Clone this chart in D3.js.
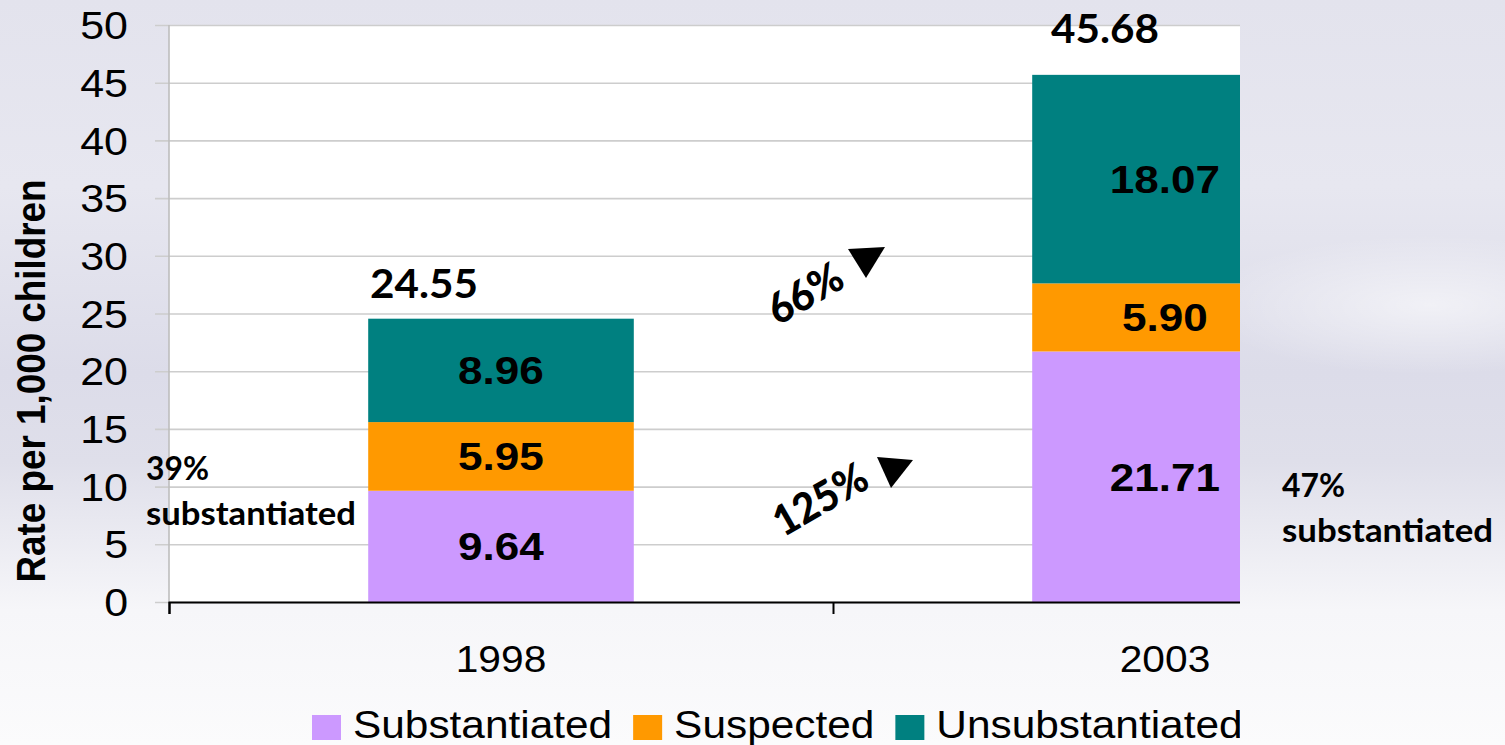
<!DOCTYPE html>
<html>
<head>
<meta charset="utf-8">
<script src="https://cdn.jsdelivr.net/npm/d3@7"></script>
<style>
  html, body { margin: 0; padding: 0; overflow: hidden; }
  svg { display: block; }
</style>
</head>
<body>
<svg id="chart"></svg>
<script>
// data
const years = ["1998", "2003"];
const seriesNames = ["Substantiated", "Suspected", "Unsubstantiated"];
const substantiated = [9.64, 21.71];
const suspected = [5.95, 5.90];
const unsubstantiated = [8.96, 18.07];
const totals = [24.55, 45.68];
const yTicks = [0, 5, 10, 15, 20, 25, 30, 35, 40, 45, 50];
const shareNotes = ["39%", "47%"];
const changeNotes = ["66%", "125%"];

const colors = ["#cc99ff", "#ff9900", "#008080"];

const width = 1505;
const height = 745;
const plot = {left: 169, right: 1497, top: 25, bottom: 602, clipRight: 1240};
const armFont = "'Liberation Sans', Arial, sans-serif";
const calFont = "Lato, 'Open Sans', sans-serif";

// widen text to look like the stretched slide
function stretch(sel, k) {
    sel.each(function() {
        const w = this.getComputedTextLength();
        d3.select(this)
            .attr("textLength", w * k)
            .attr("lengthAdjust", "spacingAndGlyphs");
    });
}
function fitTo(sel, w) {
    sel.attr("textLength", w).attr("lengthAdjust", "spacingAndGlyphs");
}

const svg = d3.select("#chart")
    .attr("width", width)
    .attr("height", height);

const defs = svg.append("defs");
const bg = defs.append("linearGradient")
    .attr("id", "bg").attr("x1", 0).attr("y1", 0).attr("x2", 0).attr("y2", 1);
[[0, "#e3e3ed"], [0.25, "#e7e7f0"], [0.5, "#dcdce9"], [0.62, "#dfdfea"],
 [0.82, "#f6f6f9"], [1, "#fbfbfc"]].forEach(s =>
    bg.append("stop").attr("offset", s[0]).attr("stop-color", s[1]));

const glow = defs.append("radialGradient").attr("id", "glow");
glow.append("stop").attr("offset", 0).attr("stop-color", "#ffffff").attr("stop-opacity", 0.55);
glow.append("stop").attr("offset", 1).attr("stop-color", "#ffffff").attr("stop-opacity", 0);

defs.append("clipPath").attr("id", "cut")
    .append("rect").attr("x", 0).attr("y", 0)
    .attr("width", plot.clipRight).attr("height", height);

svg.append("rect").attr("width", width).attr("height", height).attr("fill", "url(#bg)");
svg.append("ellipse")
    .attr("cx", 1430).attr("cy", 305).attr("rx", 230).attr("ry", 70)
    .attr("fill", "url(#glow)");

// scales
const x = d3.scaleBand()
    .domain(years)
    .range([plot.left, plot.right])
    .paddingInner(0.6)
    .paddingOuter(0.3);

const y = d3.scaleLinear()
    .domain([0, 50])
    .range([plot.bottom, plot.top]);

const rows = years.map((yr, i) => ({
    year: yr,
    Substantiated: substantiated[i],
    Suspected: suspected[i],
    Unsubstantiated: unsubstantiated[i]
}));
const stacked = d3.stack().keys(seriesNames)(rows);

const g = svg.append("g").attr("clip-path", "url(#cut)");

g.append("rect")
    .attr("x", plot.left).attr("y", plot.top)
    .attr("width", plot.right - plot.left)
    .attr("height", plot.bottom - plot.top)
    .attr("fill", "white");

// gridlines + y labels
const yAxis = g.append("g")
    .attr("transform", `translate(155,0)`)
    .call(d3.axisLeft(y).tickValues(yTicks).tickSize(-(plot.right - 155)).tickPadding(0));
yAxis.select(".domain").remove();
yAxis.selectAll(".tick line").attr("stroke", "#cdcdcd").attr("stroke-width", 1.6);
yAxis.selectAll(".tick text")
    .attr("x", -27)
    .attr("dy", "0.36em")
    .attr("fill", "#000")
    .style("font", `38px ${armFont}`);
stretch(yAxis.selectAll(".tick text"), 1.13);

g.append("line")
    .attr("x1", plot.left).attr("x2", plot.left)
    .attr("y1", plot.top).attr("y2", plot.bottom)
    .attr("stroke", "#bdbdbd").attr("stroke-width", 1.6);

// bars
g.append("g")
    .selectAll("g")
    .data(stacked)
    .join("g")
        .attr("fill", (d, i) => colors[i])
    .selectAll("rect")
    .data(d => d)
    .join("rect")
        .attr("x", d => x(d.data.year))
        .attr("y", d => y(d[1]))
        .attr("width", x.bandwidth())
        .attr("height", d => y(d[0]) - y(d[1]));

// segment values
const segLabels = g.append("g")
    .attr("text-anchor", "middle")
    .style("font", `bold 39px ${armFont}`)
    .selectAll("g")
    .data(stacked)
    .join("g")
    .selectAll("text")
    .data(d => d)
    .join("text")
        .attr("x", d => x(d.data.year) + x.bandwidth() / 2)
        .attr("y", d => (y(d[0]) + y(d[1])) / 2)
        .attr("dy", "0.36em")
        .text(d => (d[1] - d[0]).toFixed(2));
stretch(segLabels, 1.13);

// x axis
const boundary = d3.scaleLinear().domain([0, years.length]).range([plot.left, plot.right]);
const xTicks = g.append("g")
    .attr("transform", `translate(0,${plot.bottom})`)
    .call(d3.axisBottom(boundary).tickValues(d3.range(years.length + 1)).tickSize(12).tickFormat(""));
xTicks.selectAll("line, path").attr("stroke", "#000").attr("stroke-width", 2);

const xAxis = g.append("g")
    .attr("transform", `translate(0,${plot.bottom})`)
    .call(d3.axisBottom(x).tickSize(0).tickPadding(44));
xAxis.select(".domain").remove();
xAxis.selectAll(".tick text")
    .attr("fill", "#000")
    .style("font", `37px ${armFont}`);
stretch(xAxis.selectAll(".tick text"), 1.1);

// legend (cut at the right edge, like the slide)
const legend = g.append("g").attr("transform", "translate(312,715)");
let lx = 0;
seriesNames.forEach((name, i) => {
    legend.append("rect")
        .attr("x", lx).attr("y", 0)
        .attr("width", 29).attr("height", 25)
        .attr("fill", colors[i]);
    const t = legend.append("text")
        .attr("x", lx + 41).attr("y", 23)
        .style("font", `38px ${armFont}`)
        .attr("fill", "#000")
        .text(name);
    const w = t.node().getComputedTextLength() * 1.115;
    fitTo(t, w);
    lx += 41 + w + 21;
});

// totals above bars (text boxes, slightly off centre as in the slide)
const totalBoxes = [{dx: -77, dy: -21}, {dx: -60, dy: -32}];
const tot = svg.append("g")
    .attr("text-anchor", "middle")
    .style("font", `bold 41px ${calFont}`)
    .selectAll("text")
    .data(totals)
    .join("text")
        .attr("x", (d, i) => x(years[i]) + x.bandwidth() / 2 + totalBoxes[i].dx)
        .attr("y", (d, i) => y(d) + totalBoxes[i].dy)
        .text(d => d.toFixed(2));
fitTo(tot, 108);

// share notes
const shareBoxes = [{x: 146, y: 480, w1: 63, w2: 210}, {x: 1282, y: 497, w1: 63, w2: 211}];
shareNotes.forEach((s, i) => {
    const b = shareBoxes[i];
    const t = svg.append("text")
        .attr("x", b.x).attr("y", b.y)
        .style("font", `bold 32px ${calFont}`)
        .text(s);
    fitTo(t, b.w1);
    const t2 = svg.append("text")
        .attr("x", b.x).attr("y", b.y + 45)
        .style("font", `bold 32px ${calFont}`)
        .text("substantiated");
    fitTo(t2, b.w2);
});

// change notes, rotated
const changeBoxes = [{cx: 805, cy: 293, w: 80, tri: [[848, 249], [885, 247], [866, 278]]},
                     {cx: 820, cy: 499, w: 102, tri: [[877, 457], [913, 460], [891, 488]]}];
changeNotes.forEach((s, i) => {
    const b = changeBoxes[i];
    const t = svg.append("text")
        .attr("transform", `translate(${b.cx},${b.cy}) rotate(-30)`)
        .attr("text-anchor", "middle")
        .attr("dy", "0.36em")
        .style("font", `900 42px ${calFont}`)
        .text(s);
    fitTo(t, b.w);
    svg.append("path")
        .attr("d", d3.line()(b.tri) + "Z")
        .attr("fill", "#000");
});

// y title
const yt = svg.append("text")
    .attr("transform", "translate(45,381) rotate(-90)")
    .attr("text-anchor", "middle")
    .style("font", `bold 41px ${armFont}`)
    .text("Rate per 1,000 children");
fitTo(yt, 403);
</script>
</body>
</html>
